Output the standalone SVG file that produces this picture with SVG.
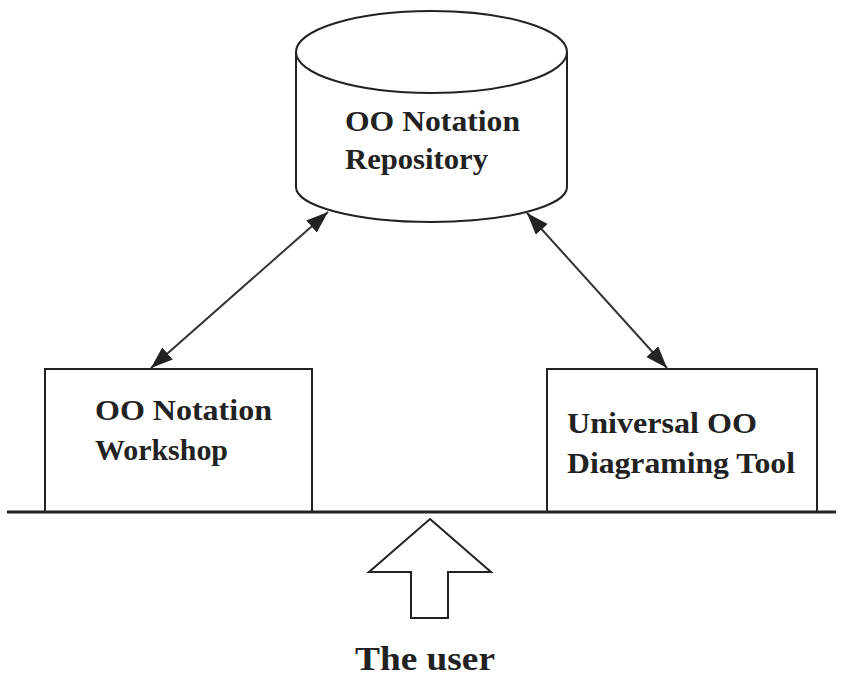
<svg xmlns="http://www.w3.org/2000/svg" width="842" height="679" viewBox="0 0 842 679">
<defs>
<style>
.shape{fill:#fff;stroke:#222;stroke-width:2}
.conn{stroke:#333;stroke-width:2;fill:none}
.lbl{font-family:"Liberation Serif","Times New Roman",serif;font-weight:bold;font-size:29px;fill:#222}
.big{font-size:34px}
</style>
<marker id="ah" markerUnits="userSpaceOnUse" markerWidth="24" markerHeight="18" refX="22" refY="8" orient="auto-start-reverse">
<path d="M0,0 L22,8 L0,16 Z" fill="#222"/>
</marker>
</defs>
<rect width="842" height="679" fill="#fff"/>
<g id="repository">
<path class="shape" d="M296,52 L296,187 A135.5,35 0 0 0 567,187 L567,52"/>
<ellipse class="shape" cx="431.5" cy="52" rx="135.5" ry="41"/>
<text class="lbl" x="345" y="131" textLength="175" lengthAdjust="spacingAndGlyphs">OO Notation</text>
<text class="lbl" x="345" y="169" textLength="143" lengthAdjust="spacingAndGlyphs">Repository</text>
</g>
<g id="workshop">
<rect class="shape" x="45" y="369" width="267" height="143"/>
<text class="lbl" x="95" y="420" textLength="177" lengthAdjust="spacingAndGlyphs">OO Notation</text>
<text class="lbl" x="95" y="460" textLength="133" lengthAdjust="spacingAndGlyphs">Workshop</text>
</g>
<g id="diagramtool">
<rect class="shape" x="547" y="369" width="270" height="143"/>
<text class="lbl" x="567" y="433" textLength="190" lengthAdjust="spacingAndGlyphs">Universal OO</text>
<text class="lbl" x="567" y="473" textLength="228" lengthAdjust="spacingAndGlyphs">Diagraming Tool</text>
</g>
<g id="baseline">
<line x1="7" y1="512" x2="836" y2="512" stroke="#222" stroke-width="3"/>
</g>
<g id="user">
<path class="shape" d="M430,519 L491,572 L448,572 L448,618 L411,618 L411,572 L369,572 Z" stroke-width="1.8"/>
<text class="lbl big" x="355" y="670" textLength="140" lengthAdjust="spacingAndGlyphs">The user</text>
</g>
<g id="connectors">
<line class="conn" x1="328" y1="212" x2="151" y2="368" marker-start="url(#ah)" marker-end="url(#ah)"/>
<line class="conn" x1="527" y1="213" x2="667" y2="368" marker-start="url(#ah)" marker-end="url(#ah)"/>
</g>
</svg>
